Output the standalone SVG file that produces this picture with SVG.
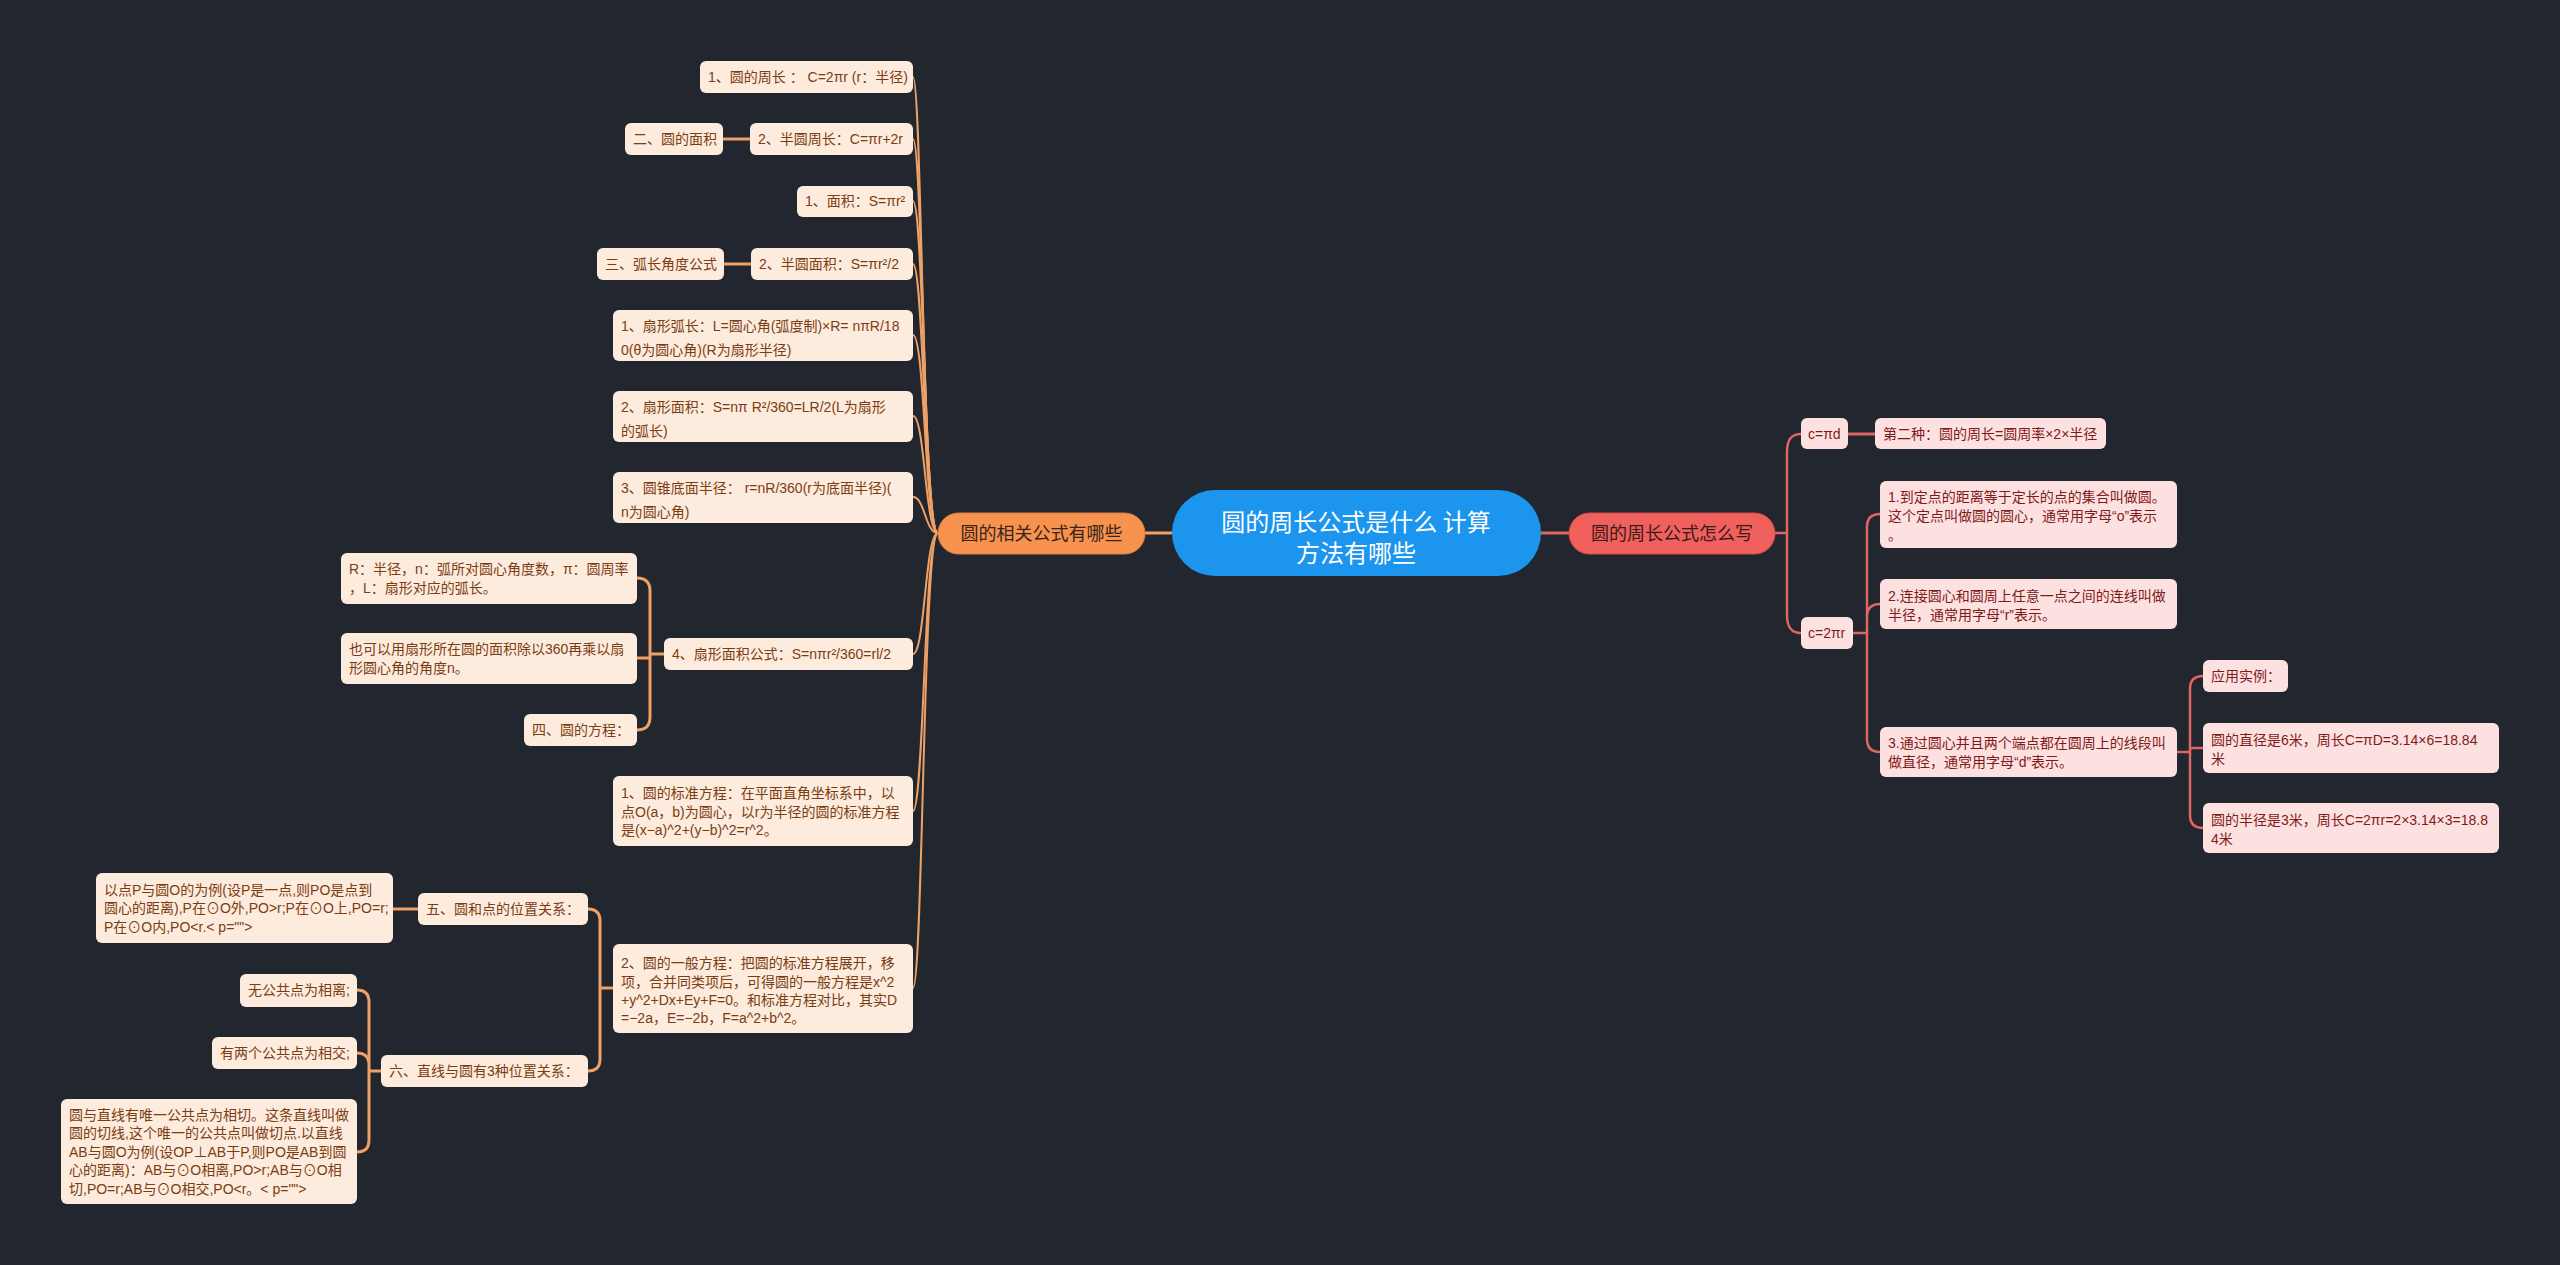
<svg xmlns="http://www.w3.org/2000/svg" width="2560" height="1265" viewBox="0 0 2560 1265">
<style>
text{font-family:"Noto Sans CJK SC","Noto Sans",sans-serif;}
.lb{fill:#fdebdd;}
.lt{fill:#7b3d12;font-size:14px;font-family:"Liberation Sans","Noto Sans CJK SC",sans-serif;}
.rb{fill:#fde1e0;}
.rt{fill:#7d1a1a;font-size:14px;font-family:"Liberation Sans","Noto Sans CJK SC",sans-serif;}
.lc{fill:none;stroke:#efa065;stroke-width:2;}
.lc3{fill:none;stroke:#efa065;stroke-width:3;}
.rc{fill:none;stroke:#e06666;stroke-width:2.5;}
.rc3{fill:none;stroke:#e06666;stroke-width:3;}
</style>
<rect x="0" y="0" width="2560" height="1265" fill="#22262f"/>
<g id="connectors">
<path class="lc3" d="M1145 533H1172"/>
<path class="rc3" d="M1541 533H1569"/>
<path class="lc" d="M938 533C922 533 922 77 913 77"/>
<path class="lc" d="M938 533C923 533 923 139 913 139"/>
<path class="lc" d="M938 533C924 533 924 201 913 201"/>
<path class="lc" d="M938 533C924 533 924 264 913 264"/>
<path class="lc" d="M938 533C925 533 925 335 913 335"/>
<path class="lc" d="M938 533C925 533 925 416 913 416"/>
<path class="lc" d="M938 533C925 533 925 497 913 497"/>
<path class="lc" d="M938 533C925 533 925 654 913 654"/>
<path class="lc" d="M938 533C924 533 924 811 913 811"/>
<path class="lc" d="M938 533C923 533 923 988 913 988"/>
<path class="lc3" d="M750 139H723"/>
<path class="lc3" d="M751 264H724"/>
<path class="lc3" d="M664 654H650M637 578Q650 578 650 591V717Q650 730 637 730M650 658H637"/>
<path class="lc3" d="M613 988H600M588 909Q600 909 600 921V1059Q600 1071 588 1071"/>
<path class="lc3" d="M418 909H393"/>
<path class="lc3" d="M381 1071H369M357 990Q369 990 369 1002V1140Q369 1152 357 1152M369 1065Q369 1053 357 1053"/>
<path class="rc" d="M1775 533H1787M1801 434C1791 434 1787 440 1787 452V615C1787 627 1791 633 1801 633"/>
<path class="rc3" d="M1848 434H1875"/>
<path class="rc" d="M1853 633H1867M1880 514Q1867 514 1867 527V739Q1867 752 1880 752M1867 617Q1867 604 1880 604"/>
<path class="rc" d="M2177 752H2190M2203 676Q2190 676 2190 689V815Q2190 828 2203 828M2190 748H2203"/>
</g>
<g id="center">
<rect x="1172" y="490" width="369" height="86" rx="43" fill="#1c95ee"/>
<text x="1356" y="531" font-size="24" fill="#ffffff" text-anchor="middle">圆的周长公式是什么 计算</text>
<text x="1356" y="562" font-size="24" fill="#ffffff" text-anchor="middle">方法有哪些</text>
</g>
<g id="main-left">
<rect x="938" y="513" width="207" height="41" rx="20.5" fill="#f7924f" stroke="#e07d3c" stroke-width="1"/>
<text x="1041.5" y="540" font-size="18" fill="#3a2418" text-anchor="middle">圆的相关公式有哪些</text>
</g>
<g id="main-right">
<rect x="1569" y="513" width="206" height="41" rx="20.5" fill="#f0605d" stroke="#d84c4a" stroke-width="1"/>
<text x="1672" y="540" font-size="18" fill="#3a1a1a" text-anchor="middle">圆的周长公式怎么写</text>
</g>
<g id="b1"><rect class="lb" x="700" y="61" width="213" height="32" rx="6"/><text class="lt" x="708" y="82">1、圆的周长 ： C=2πr (r：半径)</text></g>
<g id="b2"><rect class="lb" x="750" y="123" width="163" height="32" rx="6"/><text class="lt" x="758" y="144">2、半圆周长：C=πr+2r</text></g>
<g id="b2a"><rect class="lb" x="625" y="123" width="98" height="32" rx="6"/><text class="lt" x="633" y="144">二、圆的面积</text></g>
<g id="b3"><rect class="lb" x="797" y="186" width="116" height="31" rx="6"/><text class="lt" x="805" y="206">1、面积：S=πr²</text></g>
<g id="b4"><rect class="lb" x="751" y="248" width="162" height="32" rx="6"/><text class="lt" x="759" y="269">2、半圆面积：S=πr²/2</text></g>
<g id="b4a"><rect class="lb" x="597" y="248" width="127" height="32" rx="6"/><text class="lt" x="605" y="269">三、弧长角度公式</text></g>
<g id="b5"><rect class="lb" x="613" y="310" width="300" height="51" rx="6"/><text class="lt" x="621" y="331">1、扇形弧长：L=圆心角(弧度制)×R= nπR/18</text><text class="lt" x="621" y="355">0(θ为圆心角)(R为扇形半径)</text></g>
<g id="b6"><rect class="lb" x="613" y="391" width="300" height="51" rx="6"/><text class="lt" x="621" y="412">2、扇形面积：S=nπ R²/360=LR/2(L为扇形</text><text class="lt" x="621" y="436">的弧长)</text></g>
<g id="b7"><rect class="lb" x="613" y="472" width="300" height="51" rx="6"/><text class="lt" x="621" y="493">3、圆锥底面半径： r=nR/360(r为底面半径)(</text><text class="lt" x="621" y="517">n为圆心角)</text></g>
<g id="b8"><rect class="lb" x="664" y="638" width="249" height="32" rx="6"/><text class="lt" x="672" y="659">4、扇形面积公式：S=nπr²/360=rl/2</text></g>
<g id="b8a"><rect class="lb" x="341" y="553" width="296" height="51" rx="6"/><text class="lt" x="349" y="574">R：半径，n：弧所对圆心角度数，π：圆周率</text><text class="lt" x="349" y="593">，L：扇形对应的弧长。</text></g>
<g id="b8b"><rect class="lb" x="341" y="633" width="296" height="51" rx="6"/><text class="lt" x="349" y="654">也可以用扇形所在圆的面积除以360再乘以扇</text><text class="lt" x="349" y="673">形圆心角的角度n。</text></g>
<g id="b8c"><rect class="lb" x="524" y="714" width="113" height="32" rx="6"/><text class="lt" x="532" y="735">四、圆的方程：</text></g>
<g id="b9"><rect class="lb" x="613" y="776" width="300" height="70" rx="6"/><text class="lt" x="621" y="798">1、圆的标准方程：在平面直角坐标系中，以</text><text class="lt" x="621" y="817">点O(a，b)为圆心，以r为半径的圆的标准方程</text><text class="lt" x="621" y="835">是(x−a)^2+(y−b)^2=r^2。</text></g>
<g id="b10"><rect class="lb" x="613" y="944" width="300" height="89" rx="6"/><text class="lt" x="621" y="968">2、圆的一般方程：把圆的标准方程展开，移</text><text class="lt" x="621" y="987">项，合并同类项后，可得圆的一般方程是x^2</text><text class="lt" x="621" y="1005">+y^2+Dx+Ey+F=0。和标准方程对比，其实D</text><text class="lt" x="621" y="1023">=−2a，E=−2b，F=a^2+b^2。</text></g>
<g id="b10a"><rect class="lb" x="418" y="893" width="170" height="32" rx="6"/><text class="lt" x="426" y="914">五、圆和点的位置关系：</text></g>
<g id="b10a1"><rect class="lb" x="96" y="873" width="297" height="70" rx="6"/><text class="lt" x="104" y="895">以点P与圆O的为例(设P是一点,则PO是点到</text><text class="lt" x="104" y="913">圆心的距离),P在⊙O外,PO&gt;r;P在⊙O上,PO=r;</text><text class="lt" x="104" y="932">P在⊙O内,PO&lt;r.&lt; p=""&gt;</text></g>
<g id="b10b"><rect class="lb" x="381" y="1055" width="207" height="32" rx="6"/><text class="lt" x="389" y="1076">六、直线与圆有3种位置关系：</text></g>
<g id="b10b1"><rect class="lb" x="240" y="974" width="117" height="33" rx="6"/><text class="lt" x="248" y="995">无公共点为相离;</text></g>
<g id="b10b2"><rect class="lb" x="212" y="1037" width="145" height="32" rx="6"/><text class="lt" x="220" y="1058">有两个公共点为相交;</text></g>
<g id="b10b3"><rect class="lb" x="61" y="1099" width="296" height="105" rx="6"/><text class="lt" x="69" y="1120">圆与直线有唯一公共点为相切。这条直线叫做</text><text class="lt" x="69" y="1138">圆的切线,这个唯一的公共点叫做切点.以直线</text><text class="lt" x="69" y="1157">AB与圆O为例(设OP⊥AB于P,则PO是AB到圆</text><text class="lt" x="69" y="1175">心的距离)：AB与⊙O相离,PO&gt;r;AB与⊙O相</text><text class="lt" x="69" y="1194">切,PO=r;AB与⊙O相交,PO&lt;r。&lt; p=""&gt;</text></g>
<g id="c1"><rect class="rb" x="1801" y="418" width="47" height="31" rx="6"/><text class="rt" x="1808" y="439">c=πd</text></g>
<g id="c1a"><rect class="rb" x="1875" y="418" width="231" height="31" rx="6"/><text class="rt" x="1883" y="439">第二种：圆的周长=圆周率×2×半径</text></g>
<g id="c2"><rect class="rb" x="1801" y="617" width="52" height="32" rx="6"/><text class="rt" x="1808" y="638">c=2πr</text></g>
<g id="c2a"><rect class="rb" x="1880" y="481" width="297" height="67" rx="6"/><text class="rt" x="1888" y="502">1.到定点的距离等于定长的点的集合叫做圆。</text><text class="rt" x="1888" y="521">这个定点叫做圆的圆心，通常用字母“o”表示</text><text class="rt" x="1888" y="540">。</text></g>
<g id="c2b"><rect class="rb" x="1880" y="579" width="297" height="50" rx="6"/><text class="rt" x="1888" y="601">2.连接圆心和圆周上任意一点之间的连线叫做</text><text class="rt" x="1888" y="620">半径，通常用字母“r”表示。</text></g>
<g id="c2c"><rect class="rb" x="1880" y="727" width="297" height="50" rx="6"/><text class="rt" x="1888" y="748">3.通过圆心并且两个端点都在圆周上的线段叫</text><text class="rt" x="1888" y="767">做直径，通常用字母“d”表示。</text></g>
<g id="c2c1"><rect class="rb" x="2203" y="660" width="85" height="32" rx="6"/><text class="rt" x="2211" y="681">应用实例：</text></g>
<g id="c2c2"><rect class="rb" x="2203" y="723" width="296" height="50" rx="6"/><text class="rt" x="2211" y="745">圆的直径是6米，周长C=πD=3.14×6=18.84</text><text class="rt" x="2211" y="764">米</text></g>
<g id="c2c3"><rect class="rb" x="2203" y="803" width="296" height="50" rx="6"/><text class="rt" x="2211" y="825">圆的半径是3米，周长C=2πr=2×3.14×3=18.8</text><text class="rt" x="2211" y="844">4米</text></g>
</svg>
